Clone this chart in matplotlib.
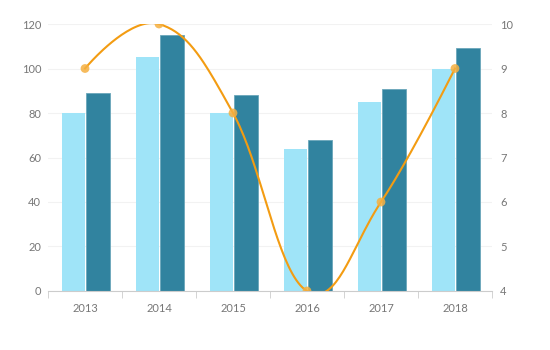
import numpy as np
import matplotlib.pyplot as plt

years = ['2013', '2014', '2015', '2016', '2017', '2018']
series_a = [80, 105, 80, 64, 85, 100]
series_b = [89, 115, 88, 68, 91, 109]
line_vals = [9, 10, 8, 4, 6, 9]

plt.rcParams['font.family'] = ['Lato', 'DejaVu Sans']

fig = plt.figure(figsize=(5.5, 3.5), dpi=100)
ax = fig.add_axes([0.0873, 0.1686, 0.8072, 0.7628])
x = np.arange(len(years))

ax.bar(x - 0.155, series_a, width=0.32, color='#9fe4f8', zorder=2)
ax.bar(x + 0.18, series_b, width=0.32, color='#31839f',
       edgecolor='#6aa6ba', linewidth=0.6, zorder=2)

ax.set_xlim(-0.5, len(years) - 0.5)
ax.set_ylim(0, 120)
ax.set_yticks(range(0, 121, 20))
ax.grid(axis='y', color='#f2f2f2', linewidth=0.8, zorder=0)
for s in ['top', 'left', 'right']:
    ax.spines[s].set_visible(False)
ax.spines['bottom'].set_color('#cccccc')
ax.set_xticks(x)
ax.set_xticklabels(years)
ax.set_xticks(np.arange(-0.5, len(years)), minor=True)
ax.tick_params(axis='x', which='major', length=0, pad=9,
               labelsize=8, labelcolor='#777777')
ax.tick_params(axis='x', which='minor', length=5, color='#cccccc')
ax.tick_params(axis='y', length=0, pad=5, labelsize=8, labelcolor='#777777')


def spline_path(xv, yv, smoothing=1.5, n=40):
    # bezier spline with control points placed like a charting library does
    xv = np.asarray(xv, dtype=float)
    yv = np.asarray(yv, dtype=float)
    m = len(xv)
    left = [(xv[i], yv[i]) for i in range(m)]
    right = [(xv[i], yv[i]) for i in range(m)]
    for i in range(1, m - 1):
        lx = (smoothing * xv[i] + xv[i - 1]) / (smoothing + 1)
        ly = (smoothing * yv[i] + yv[i - 1]) / (smoothing + 1)
        rx = (smoothing * xv[i] + xv[i + 1]) / (smoothing + 1)
        ry = (smoothing * yv[i] + yv[i + 1]) / (smoothing + 1)
        corr = (ry - ly) * (rx - xv[i]) / (rx - lx) + yv[i] - ry
        left[i] = (lx, ly + corr)
        right[i] = (rx, ry + corr)
    t = np.linspace(0, 1, n)[:, None]
    out = []
    for i in range(m - 1):
        p0 = np.array([xv[i], yv[i]])
        p1 = np.array(right[i])
        p2 = np.array(left[i + 1])
        p3 = np.array([xv[i + 1], yv[i + 1]])
        seg = ((1 - t) ** 3 * p0 + 3 * (1 - t) ** 2 * t * p1
               + 3 * (1 - t) * t ** 2 * p2 + t ** 3 * p3)
        out.append(seg)
    pts = np.vstack(out)
    return pts[:, 0], pts[:, 1]


ax2 = ax.twinx()
sx, sy = spline_path(x, line_vals)
ax2.plot(sx, sy, color='#f39c12', linewidth=1.5, zorder=3)
ax2.scatter(x, line_vals, s=40, color='#f5b041', alpha=0.85,
            edgecolor='none', zorder=4)
ax2.set_ylim(4, 10)
ax2.set_yticks(range(4, 11))
for s in ['top', 'left', 'right', 'bottom']:
    ax2.spines[s].set_visible(False)
ax2.tick_params(axis='y', length=0, pad=6, labelsize=8, labelcolor='#777777')

fig.savefig('out.png')
